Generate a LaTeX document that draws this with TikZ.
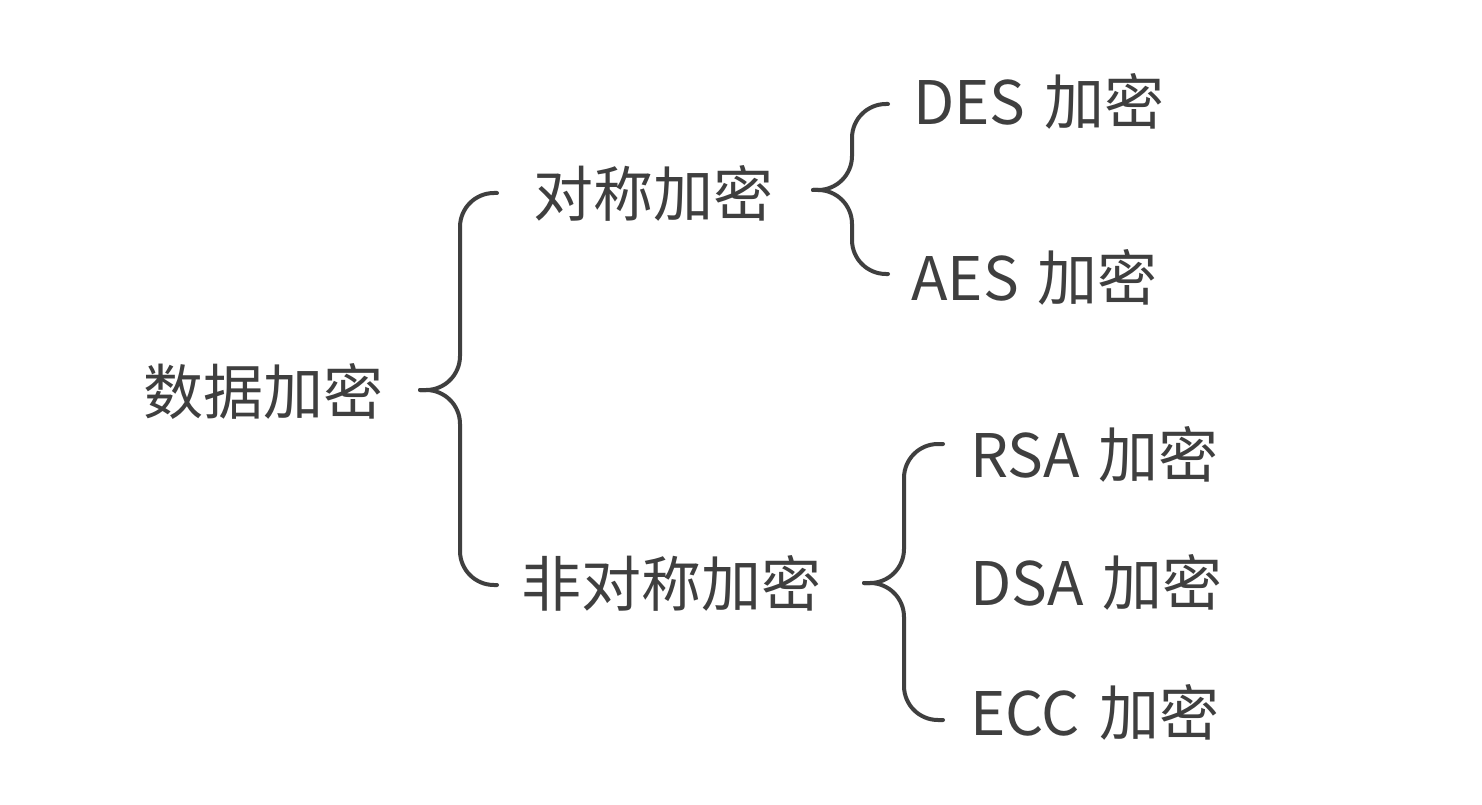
\documentclass[tikz,border=0pt]{standalone}
\usepackage{fontspec}
\setmainfont{Noto Sans CJK SC}
\definecolor{ink}{HTML}{3F3F3F}
\newcommand{\gapsp}{\hspace{19pt}}
\begin{document}
\begin{tikzpicture}[x=1pt,y=-1pt,
  lbl/.style={anchor=base west,inner sep=0pt,text=ink,font=\fontsize{60pt}{72pt}\selectfont},
  brace/.style={draw=ink,line width=4pt,rounded corners=34pt,line cap=round}]
\useasboundingbox[fill=white] (0,0) rectangle (1482,805);
% labels
\node[lbl] (root) at (143,414) {数据加密};
\node[lbl] (sym)  at (533,216) {对称加密};
\node[lbl] (asym) at (521,606) {非对称加密};
\node[lbl] (des)  at (913,125) {DES\gapsp 加密};
\node[lbl] (aes)  at (911,300) {AES\gapsp 加密};
\node[lbl] (rsa)  at (970,477) {RSA\gapsp 加密};
\node[lbl] (dsa)  at (970,605) {DSA\gapsp 加密};
\node[lbl] (ecc)  at (970,735) {ECC\gapsp 加密};
% brace coordinates
\coordinate (t1) at (420,390); \coordinate (m1) at (460,390);
\coordinate (a1) at (497,193); \coordinate (z1) at (497,585);
\coordinate (t2) at (813,190); \coordinate (m2) at (852,190);
\coordinate (a2) at (888,104); \coordinate (z2) at (888,274);
\coordinate (t3) at (864,583); \coordinate (m3) at (904,583);
\coordinate (a3) at (943,444); \coordinate (z3) at (943,720);
% braces
\foreach \i in {1,2,3}{
  \draw[brace] (a\i) -| (m\i) -- (t\i);
  \draw[brace] (t\i) -- (m\i) |- (z\i);
}
\end{tikzpicture}
\end{document}
